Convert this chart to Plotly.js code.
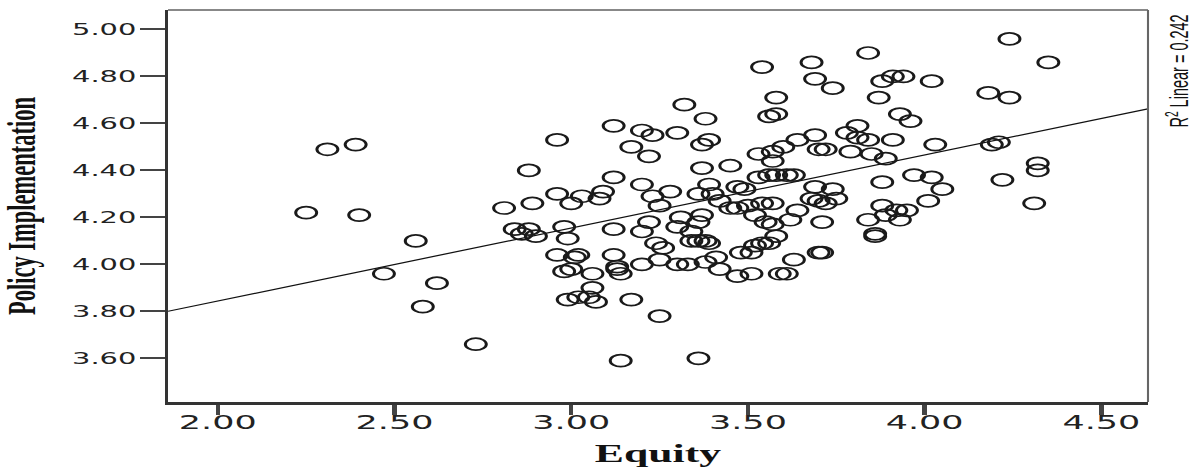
<!DOCTYPE html>
<html>
<head>
<meta charset="utf-8">
<script src="https://cdn.plot.ly/plotly-3.0.1.min.js"></script>
<style>
  html, body { margin: 0; padding: 0; background: #fff; overflow: hidden; }
  #wrap { width: 1204px; height: 472px; overflow: hidden; }
  #chart { width: 688px; height: 472px; transform: scaleX(1.75); transform-origin: 0 0; }
</style>
</head>
<body>
<div id="wrap"><div id="chart"></div></div>
<script>
// Equity (x) and Policy Implementation (y)
const equity = [
  2.25, 2.31, 2.39, 2.40, 2.47, 2.56, 2.58, 2.62, 2.73, 2.81,
  2.89, 2.88, 2.84, 2.88, 2.86, 2.90, 2.96, 2.96, 2.98, 2.99,
  3.00, 2.96, 3.01, 3.02, 2.98, 3.00, 3.06, 3.06, 2.99, 3.02,
  3.05, 3.07, 3.03, 3.08, 3.09, 3.12, 3.12, 3.12, 3.12, 3.13,
  3.13, 3.14, 3.17, 3.14, 3.17, 3.20, 3.23, 3.22, 3.20, 3.20,
  3.22, 3.24, 3.26, 3.20, 3.25, 3.25, 3.23, 3.25, 3.28, 3.30,
  3.32, 3.31, 3.30, 3.34, 3.36, 3.34, 3.36, 3.38, 3.39, 3.30,
  3.33, 3.38, 3.41, 3.42, 3.36, 3.38, 3.39, 3.37, 3.37, 3.45,
  3.36, 3.39, 3.40, 3.37, 3.42, 3.45, 3.47, 3.47, 3.49, 3.47,
  3.51, 3.48, 3.51, 3.52, 3.54, 3.59, 3.54, 3.53, 3.57, 3.57,
  3.53, 3.56, 3.58, 3.61, 3.63, 3.54, 3.50, 3.52, 3.55, 3.57,
  3.58, 3.56, 3.58, 3.68, 3.69, 3.74, 3.64, 3.69, 3.70, 3.72,
  3.60, 3.69, 3.64, 3.68, 3.70, 3.72, 3.74, 3.75, 3.84, 3.88,
  3.91, 3.94, 4.02, 3.87, 4.18, 4.24, 4.24, 4.35, 3.93, 3.96,
  3.81, 3.78, 3.81, 3.84, 3.91, 3.79, 3.85, 3.89, 4.03, 4.19,
  4.21, 4.32, 4.32, 4.22, 4.31, 3.88, 3.97, 4.02, 4.05, 4.01,
  3.92, 3.95, 3.88, 3.89, 3.84, 3.93, 3.86, 3.86, 3.71, 3.71,
  3.57, 3.62, 3.58, 3.56, 3.70, 3.63, 3.61
];
const policy = [
  4.22, 4.49, 4.51, 4.21, 3.96, 4.10, 3.82, 3.92, 3.66, 4.24,
  4.26, 4.40, 4.15, 4.15, 4.13, 4.12, 4.53, 4.30, 4.16, 4.11,
  4.26, 4.04, 4.03, 4.04, 3.97, 3.98, 3.96, 3.90, 3.85, 3.86,
  3.86, 3.84, 4.29, 4.28, 4.31, 4.37, 4.59, 4.15, 4.04, 3.99,
  3.98, 3.96, 3.85, 3.59, 4.50, 4.57, 4.55, 4.46, 4.34, 4.14,
  4.18, 4.09, 4.07, 4.00, 4.02, 3.78, 4.29, 4.25, 4.31, 4.56,
  4.68, 4.20, 4.16, 4.14, 4.18, 4.10, 4.10, 4.10, 4.09, 4.00,
  4.00, 4.01, 4.03, 3.98, 3.60, 4.62, 4.53, 4.51, 4.41, 4.42,
  4.30, 4.34, 4.30, 4.21, 4.27, 4.24, 4.24, 4.33, 4.32, 3.95,
  3.96, 4.05, 4.05, 4.08, 4.09, 3.96, 4.84, 4.47, 4.48, 4.44,
  4.37, 4.38, 4.38, 4.38, 4.38, 4.26, 4.25, 4.21, 4.18, 4.26,
  4.71, 4.63, 4.64, 4.86, 4.79, 4.75, 4.53, 4.55, 4.49, 4.49,
  4.50, 4.33, 4.23, 4.28, 4.27, 4.26, 4.32, 4.28, 4.90, 4.78,
  4.80, 4.80, 4.78, 4.71, 4.73, 4.71, 4.96, 4.86, 4.64, 4.61,
  4.59, 4.56, 4.54, 4.53, 4.53, 4.48, 4.47, 4.45, 4.51, 4.51,
  4.52, 4.43, 4.40, 4.36, 4.26, 4.35, 4.38, 4.37, 4.32, 4.27,
  4.23, 4.23, 4.25, 4.21, 4.19, 4.19, 4.13, 4.12, 4.18, 4.05,
  4.17, 4.19, 4.12, 4.09, 4.05, 4.02, 3.96
];
// Fit line as shown in the reference (R² Linear = 0.242)
const fitIntercept = 3.222;
const fitSlope = 0.311;
const r2Label = 'R<sup>2</sup> Linear = 0.242';
const xTickVals = [2.0, 2.5, 3.0, 3.5, 4.0, 4.5];
const xTickText = ['2.00', '2.50', '3.00', '3.50', '4.00', '4.50'];
const yTickVals = [3.6, 3.8, 4.0, 4.2, 4.4, 4.6, 4.8, 5.0];
const yTickText = ['3.60', '3.80', '4.00', '4.20', '4.40', '4.60', '4.80', '5.00'];
const xTitle = 'Equity';
const yTitle = 'Policy Implementation';

const xRange = [1.859, 4.632];
const yRange = [3.414, 5.083];
const lineX = [xRange[0], xRange[1]];
const lineY = lineX.map(v => fitIntercept + fitSlope * v);

const traces = [
  {
    x: lineX, y: lineY, type: 'scatter', mode: 'lines',
    line: { color: '#111', width: 1.2 }, hoverinfo: 'skip', showlegend: false
  },
  {
    x: equity, y: policy, type: 'scatter', mode: 'markers',
    marker: { symbol: 'circle-open', size: 12, color: '#1a1a1a', line: { width: 1.7, color: '#1a1a1a' } },
    showlegend: false
  }
];

const layout = {
  width: 688, height: 472,
  margin: { l: 96, r: 31.8, t: 10, b: 70.3 },
  paper_bgcolor: '#fff', plot_bgcolor: '#fff',
  showlegend: false,
  xaxis: {
    range: xRange, tickvals: xTickVals, ticktext: xTickText,
    showgrid: false, zeroline: false,
    showline: true, linecolor: '#333', linewidth: 3,
    ticks: 'outside', ticklen: 10, tickwidth: 2.5, tickcolor: '#444',
    ticklabelstandoff: -10,
    tickfont: { family: 'DejaVu Sans, Arial, sans-serif', size: 20, color: '#222' },
    title: { text: xTitle, font: { family: 'Liberation Serif, Times New Roman, serif', size: 25, color: '#111', weight: 'bold' }, standoff: 12 }
  },
  yaxis: {
    range: yRange, tickvals: yTickVals, ticktext: yTickText,
    showgrid: false, zeroline: false,
    showline: true, linecolor: '#333', linewidth: 1.8,
    ticks: 'outside', ticklen: 14, tickwidth: 2, tickcolor: '#444',
    ticklabelstandoff: -1,
    tickfont: { family: 'DejaVu Sans, Arial, sans-serif', size: 16.5, color: '#222' },
    title: { text: yTitle, font: { family: 'Liberation Serif, Times New Roman, serif', size: 22.5, color: '#111', weight: 'bold' }, standoff: 18 }
  },
  shapes: [
    { type: 'line', xref: 'paper', yref: 'paper', x0: 0, x1: 1, y0: 1, y1: 1, line: { color: '#888', width: 2 } },
    { type: 'line', xref: 'paper', yref: 'paper', x0: 1, x1: 1, y0: 0, y1: 1, line: { color: '#666', width: 1.2 } }
  ],
  annotations: [
    {
      xref: 'paper', yref: 'paper', x: 1.03, y: 0.845, xanchor: 'center', yanchor: 'middle',
      text: r2Label, textangle: -90, showarrow: false,
      font: { family: 'Liberation Sans, Arial, sans-serif', size: 14.5, color: '#111' }
    }
  ]
};

Plotly.newPlot('chart', traces, layout, { staticPlot: true, displayModeBar: false });
</script>
</body>
</html>
